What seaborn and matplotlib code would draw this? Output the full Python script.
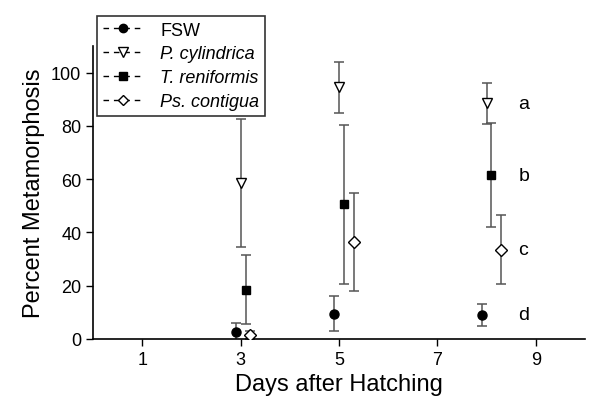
import pandas as pd
import seaborn as sns
import matplotlib.pyplot as plt
from matplotlib.lines import Line2D

sns.set_theme(style="ticks")
plt.rcParams['font.family'] = ['Liberation Sans', 'DejaVu Sans']
plt.rcParams['text.color'] = 'black'
plt.rcParams['axes.labelcolor'] = 'black'
plt.rcParams['xtick.color'] = 'black'
plt.rcParams['ytick.color'] = 'black'

# Data (x positions are slightly offset around days 3, 5, 8)
series = ["FSW", "P. cylindrica", "T. reniformis", "Ps. contigua"]
fsw_x = [2.9, 4.9, 7.9]
fsw_y = [2.5, 9.5, 9.0]
fsw_err = [3.5, 6.5, 4.0]
pcyl_x = [3.0, 5.0, 8.0]
pcyl_y = [58.5, 94.5, 88.5]
pcyl_err = [24.0, 9.5, 7.8]
tren_x = [3.1, 5.1, 8.1]
tren_y = [18.5, 50.5, 61.5]
tren_err = [13.0, 30.0, 19.5]
pcon_x = [3.2, 5.3, 8.3]
pcon_y = [1.5, 36.5, 33.5]
pcon_err = [1.5, 18.5, 13.0]
sig_letters = ["a", "b", "c", "d"]
sig_y = [88.5, 61.5, 33.5, 9.0]
sig_x = 8.65

markers = {"FSW": "o", "P. cylindrica": "v", "T. reniformis": "s", "Ps. contigua": "D"}
faces = {"FSW": "black", "P. cylindrica": "white", "T. reniformis": "black", "Ps. contigua": "white"}
sizes = {"FSW": 6.5, "P. cylindrica": 7, "T. reniformis": 6, "Ps. contigua": 6}

df = pd.DataFrame({
    "Series": sum([[s] * 3 for s in series], []),
    "Day": fsw_x + pcyl_x + tren_x + pcon_x,
    "Value": fsw_y + pcyl_y + tren_y + pcon_y,
    "Err": fsw_err + pcyl_err + tren_err + pcon_err,
})

fig = plt.figure(figsize=(5.89, 4.10), dpi=100)
ax = fig.add_axes([0.158, 0.171, 0.835, 0.714])

for s in series:
    d = df[df["Series"] == s]
    ax.errorbar(d["Day"], d["Value"], yerr=d["Err"], fmt="none", ecolor="#555555",
                elinewidth=1.1, capsize=3.5, capthick=1.1, zorder=2)
    ax.plot(d["Day"], d["Value"], linestyle="none", marker=markers[s],
            markersize=sizes[s], markerfacecolor=faces[s], markeredgecolor="black",
            markeredgewidth=1.0, zorder=3)

for letter, yv in zip(sig_letters, sig_y):
    ax.text(sig_x, yv, letter, fontsize=14, va="center", ha="left")

ax.set_xlim(0, 10)
ax.set_ylim(0, 110)
ax.set_xticks([1, 3, 5, 7, 9])
ax.set_yticks([0, 20, 40, 60, 80, 100])
ax.tick_params(axis="both", direction="out", length=5, width=1, labelsize=13, color="black")
ax.set_xlabel("Days after Hatching", fontsize=17)
ax.set_ylabel("Percent Metamorphosis", fontsize=17)
for sp in ["top", "right"]:
    ax.spines[sp].set_visible(False)
for sp in ["left", "bottom"]:
    ax.spines[sp].set_color("black")
    ax.spines[sp].set_linewidth(1.2)

handles = [Line2D([0], [0], color="black", linewidth=1, dashes=(4, 3.5),
                  marker=markers[s], markersize=sizes[s] - 0.5, markerfacecolor=faces[s],
                  markeredgecolor="black") for s in series]
leg = ax.legend(handles, series, loc="upper left", bbox_to_anchor=(0.165, 0.958),
                bbox_transform=fig.transFigure, fontsize=13, frameon=True, fancybox=False,
                handlelength=2.3, borderpad=0.3, labelspacing=0.38, handletextpad=0.9,
                borderaxespad=0)
for t in leg.get_texts()[1:]:
    t.set_fontstyle("italic")
leg.get_frame().set_edgecolor("black")
leg.get_frame().set_linewidth(1.2)
leg.set_zorder(5)

fig.savefig("out.png", dpi=100)
